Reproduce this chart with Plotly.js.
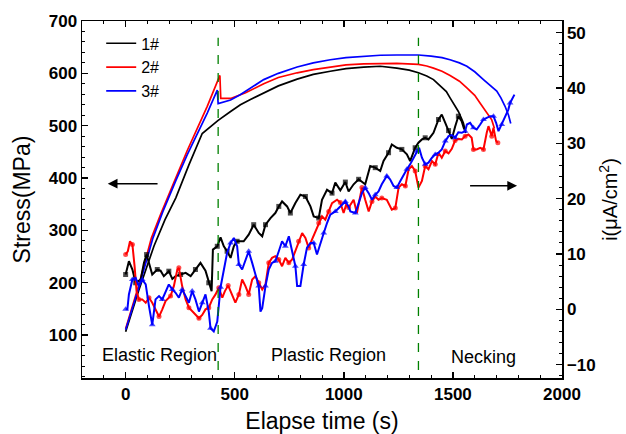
<!DOCTYPE html>
<html>
<head>
<meta charset="utf-8">
<script src="https://cdn.plot.ly/plotly-3.0.1.min.js"></script>
<style>html,body{margin:0;padding:0;background:#fff;}#chart{width:626px;height:434px;}</style>
</head>
<body>
<div id="chart"></div>
<script>
// ---------- data ----------
var seriesNames = ['1#', '2#', '3#'];
var seriesColors = ['#000000', '#ff0000', '#0000ff'];

// Stress (MPa) vs elapse time (s)
var stressTime1 = [0, 60, 130, 180, 230, 290, 351, 385, 424, 481, 526, 572, 633, 700, 786, 860, 938, 1010, 1091, 1167, 1243, 1300, 1342, 1380, 1411, 1450, 1470, 1487, 1510, 1525, 1540, 1548, 1559];
var stress1     = [106, 185, 270, 320, 362, 425, 485, 497, 510, 527, 540, 550, 563, 576, 589, 598, 604, 609, 612, 613.5, 610, 606, 601, 595, 588, 574, 565, 553, 537, 527, 513, 505, 486];

var stressTime2 = [0, 60, 118, 160, 220, 282, 374, 432, 436, 481, 550, 633, 700, 786, 860, 938, 1010, 1091, 1167, 1243, 1342, 1380, 1411, 1450, 1487, 1530, 1564, 1600, 1625, 1650, 1663, 1678, 1690];
var stress2     = [112, 195, 285, 330, 390, 452, 537, 596, 552, 552, 563, 580, 592, 601, 607, 612, 616, 618, 619, 619, 617, 614, 610, 604, 596, 585, 572, 558, 543, 528, 521, 511, 495];

var stressTime3 = [0, 60, 125, 170, 230, 282, 374, 420, 424, 481, 525, 572, 633, 700, 786, 860, 938, 1010, 1091, 1167, 1243, 1342, 1400, 1450, 1487, 1530, 1564, 1600, 1640, 1675, 1701, 1720, 1739, 1755, 1765];
var stress3     = [110, 190, 285, 335, 395, 444, 524, 568, 542, 549, 559, 572, 588, 600, 612, 620, 626, 630, 633, 634.5, 635, 635, 633, 630, 626, 620, 613.5, 603, 588, 576, 566, 553, 537, 520, 504];

// Current density i (uA/cm2) vs elapse time (s)
var currTime1 = [0, 15, 31, 46, 69, 84, 96, 107, 122, 145, 160, 175, 198, 214, 229, 252, 275, 298, 320, 343, 366, 381, 394, 400, 420, 435, 450, 465, 481, 496, 511, 541, 564, 587, 610, 626, 641, 664, 686, 702, 717, 740, 755, 778, 801, 824, 847, 862, 885, 900, 923, 946, 961, 984, 1007, 1022, 1045, 1068, 1098, 1121, 1144, 1167, 1182, 1205, 1220, 1243, 1266, 1289, 1304, 1327, 1342, 1358, 1373, 1388, 1411, 1434, 1449, 1465, 1480, 1495, 1510, 1525, 1540, 1552];
var curr1     = [6.3, 8.7, 7.2, 4.8, 5.4, 8.4, 9.9, 8.4, 6.3, 7.2, 7.0, 6.0, 6.9, 5.5, 6.0, 6.3, 6.6, 6.0, 7.2, 8.4, 7.0, 4.8, 3.3, 10.8, 11.4, 13.0, 11.4, 10.5, 9.3, 11.4, 12.3, 12.3, 13.5, 15.3, 13.8, 13.2, 15.3, 16.5, 17.4, 18.6, 19.5, 18.6, 17.4, 19.2, 20.7, 20.4, 18.6, 16.8, 16.5, 19.8, 21.6, 21.0, 22.9, 21.5, 23.0, 21.3, 22.6, 23.5, 22.6, 25.9, 25.6, 25.0, 26.8, 28.3, 29.8, 29.2, 28.9, 28.0, 26.8, 29.2, 30.1, 30.7, 31.0, 30.7, 31.9, 34.3, 35.2, 33.7, 32.3, 30.8, 33.0, 34.9, 34.0, 32.5];

var currTime2 = [0, 10, 20, 31, 41, 50, 61, 76, 92, 107, 122, 137, 153, 168, 183, 206, 221, 237, 244, 259, 275, 290, 305, 320, 336, 351, 366, 381, 397, 412, 427, 443, 455, 470, 488, 503, 519, 534, 549, 564, 580, 595, 610, 626, 641, 656, 671, 686, 702, 717, 732, 748, 763, 778, 793, 809, 824, 839, 854, 870, 885, 900, 915, 931, 946, 969, 984, 999, 1010, 1022, 1045, 1060, 1083, 1098, 1114, 1129, 1144, 1159, 1174, 1197, 1220, 1236, 1251, 1266, 1282, 1297, 1312, 1327, 1342, 1358, 1373, 1388, 1404, 1419, 1434, 1449, 1465, 1480, 1495, 1510, 1525, 1541, 1556, 1571, 1586, 1594, 1609, 1625, 1640, 1655, 1663, 1678, 1686, 1698, 1706];
var curr2     = [9.9, 10.5, 12.3, 11.7, 7.8, 3.3, 1.8, 1.8, 1.2, 2.1, 1.2, 0.0, -1.3, 0.0, 1.5, 2.4, 4.2, 7.2, 7.5, 4.2, 1.8, 0.3, -0.3, -1.0, -1.6, -1.0, 0.0, 0.3, 1.8, 2.7, 3.9, 2.1, 3.3, 4.3, 2.7, 1.2, 2.7, 5.4, 4.2, 2.7, 5.4, 6.0, 4.8, 3.6, 4.5, 8.4, 9.3, 9.6, 9.0, 7.8, 9.3, 8.4, 9.0, 10.5, 12.3, 13.8, 12.9, 11.1, 12.6, 14.1, 15.6, 16.8, 16.2, 17.7, 19.2, 19.8, 19.3, 17.4, 18.8, 18.4, 19.8, 17.4, 22.0, 19.8, 17.7, 19.5, 20.4, 19.8, 20.1, 19.8, 18.0, 18.3, 22.0, 22.6, 22.3, 25.3, 25.9, 25.0, 22.0, 23.2, 25.9, 25.3, 26.8, 26.2, 28.3, 27.4, 28.6, 28.2, 29.0, 30.5, 30.8, 30.7, 31.3, 31.6, 31.0, 28.9, 28.9, 29.2, 28.9, 31.9, 33.1, 31.3, 32.8, 30.4, 30.1];

var currTime3 = [0, 8, 15, 31, 46, 61, 76, 92, 107, 122, 137, 153, 168, 183, 198, 214, 229, 244, 259, 275, 290, 305, 320, 336, 351, 366, 381, 389, 404, 420, 435, 450, 465, 481, 496, 511, 519, 534, 549, 564, 580, 595, 610, 618, 626, 641, 656, 671, 686, 702, 717, 732, 748, 763, 778, 786, 801, 816, 831, 847, 862, 877, 893, 908, 923, 938, 961, 977, 992, 1007, 1022, 1030, 1053, 1068, 1083, 1098, 1114, 1129, 1144, 1159, 1174, 1197, 1212, 1228, 1243, 1259, 1274, 1289, 1304, 1320, 1335, 1345, 1358, 1373, 1388, 1404, 1419, 1434, 1449, 1465, 1480, 1495, 1510, 1525, 1541, 1556, 1564, 1579, 1594, 1609, 1625, 1640, 1655, 1671, 1686, 1698, 1709, 1724, 1739, 1754, 1762, 1777, 1782];
var curr3     = [0.0, 0.0, 2.7, 5.4, 5.7, 4.2, 5.4, 4.5, 0.6, -2.8, 1.8, 2.4, 1.8, 3.3, 4.5, 3.6, 3.0, 2.1, 3.6, 2.4, 1.2, 3.3, 1.8, -0.4, 1.2, 2.7, -0.4, -3.4, -4.0, -2.2, 4.0, 7.0, 10.2, 12.0, 12.9, 11.4, 8.1, 7.2, 9.0, 10.5, 8.4, 6.3, 4.2, -0.4, 0.2, 4.2, 7.2, 8.4, 8.7, 10.5, 12.3, 11.4, 13.2, 10.5, 7.8, 4.2, 4.2, 8.1, 11.1, 12.0, 12.0, 9.9, 11.7, 13.8, 15.6, 17.1, 17.7, 18.3, 18.9, 19.5, 18.6, 17.7, 17.4, 19.2, 21.0, 22.0, 21.0, 19.8, 20.7, 21.3, 22.6, 24.1, 23.5, 22.3, 22.0, 23.2, 24.4, 25.3, 26.2, 27.4, 28.6, 29.2, 27.4, 26.2, 26.5, 27.4, 28.0, 28.3, 28.9, 30.4, 31.3, 31.5, 31.0, 32.0, 31.9, 32.2, 33.4, 33.7, 32.8, 32.5, 33.4, 34.3, 34.6, 34.9, 34.9, 33.7, 32.2, 33.4, 34.9, 36.1, 37.3, 38.5, 38.8];

// region boundaries (s) and labels
var regionBounds = [424, 1342];
var regionLabels = ['Elastic Region', 'Plastic Region', 'Necking'];
var regionLabelX = [156, 929, 1638];

// ---------- build ----------
var FONT = 'Arial, "Liberation Sans", Helvetica, sans-serif';
var stressT = [stressTime1, stressTime2, stressTime3];
var stressV = [stress1, stress2, stress3];
var currT = [currTime1, currTime2, currTime3];
var currV = [curr1, curr2, curr3];
var symbols = ['square', 'circle', 'triangle-up'];
var msz = [5, 5, 6];

var traces = [];
for (var k = 0; k < 3; k++) {
  var sizes = currT[k].map(function (_, i) { return (i % 3 === 0) ? msz[k] : 0; });
  traces.push({
    x: currT[k], y: currV[k], yaxis: 'y2', type: 'scatter', mode: 'lines+markers',
    line: {color: seriesColors[k], width: 2},
    marker: {symbol: symbols[k], size: sizes, color: seriesColors[k], line: {width: 0}},
    showlegend: false, hoverinfo: 'skip'
  });
}
for (var k = 0; k < 3; k++) {
  traces.push({
    x: stressT[k], y: stressV[k], type: 'scatter', mode: 'lines', name: seriesNames[k],
    line: {color: seriesColors[k], width: 1.7}
  });
}

var tickFont = {family: FONT, size: 17, color: '#000', weight: 'bold'};
var shapes = regionBounds.map(function (b) {
  return {type: 'line', xref: 'x', yref: 'y', x0: b, x1: b, y0: 33, y1: 668,
          line: {color: '#008000', width: 1.3, dash: 'dash'}};
});
var annotations = regionLabels.map(function (t, i) {
  return {text: t, x: regionLabelX[i], xref: 'x', y: (i === 2 ? 0.059 : 0.064), yref: 'paper',
          yanchor: 'middle', xanchor: 'center',
          showarrow: false, font: {family: FONT, size: 18, color: '#000'}};
});
annotations.push({text: ' ', x: -82, y: 389, ax: 160, ay: 389, xref: 'x', yref: 'y', axref: 'x', ayref: 'y',
                  showarrow: true, arrowhead: 2, arrowsize: 1.3, arrowwidth: 1.5, arrowcolor: '#000'});
annotations.push({text: ' ', x: 1794, y: 385, ax: 1565, ay: 385, xref: 'x', yref: 'y', axref: 'x', ayref: 'y',
                  showarrow: true, arrowhead: 2, arrowsize: 1.3, arrowwidth: 1.5, arrowcolor: '#000'});

var layout = {
  width: 626, height: 434,
  margin: {l: 82, r: 64, t: 21, b: 56},
  paper_bgcolor: '#fff', plot_bgcolor: '#fff',
  font: {family: FONT, color: '#000'},
  showlegend: true,
  legend: {x: 0.04, y: 0.985, xanchor: 'left', yanchor: 'top', bgcolor: 'rgba(0,0,0,0)',
           font: {family: FONT, size: 16, color: '#000'}, tracegroupgap: 0},
  xaxis: {
    range: [-200, 2000], tick0: 0, dtick: 500, tickmode: 'linear',
    ticks: 'inside', ticklen: 6, tickwidth: 1.5, tickcolor: '#000',
    showline: true, linewidth: 1.5, linecolor: '#000', mirror: 'ticks',
    showgrid: false, zeroline: false, tickfont: tickFont,
    minor: {dtick: 100, ticks: 'inside', ticklen: 3, tickwidth: 1, tickcolor: '#000', showgrid: false},
    title: {text: 'Elapse time (s)', font: {family: FONT, size: 23, color: '#000'}, standoff: 11}
  },
  yaxis: {
    range: [17.7, 700], tick0: 0, dtick: 100, tickmode: 'linear',
    ticks: 'inside', ticklen: 6, tickwidth: 1.5, tickcolor: '#000',
    showline: true, linewidth: 1.5, linecolor: '#000',
    showgrid: false, zeroline: false, tickfont: tickFont,
    minor: {dtick: 20, ticks: 'inside', ticklen: 3, tickwidth: 1, tickcolor: '#000', showgrid: false},
    title: {text: 'Stress(MPa)', font: {family: FONT, size: 23, color: '#000'}, standoff: 11}
  },
  yaxis2: {
    overlaying: 'y', side: 'right',
    range: [-12.4, 52.1], tick0: 0, dtick: 10, tickmode: 'linear',
    ticks: 'inside', ticklen: 6, tickwidth: 1.5, tickcolor: '#000',
    showline: true, linewidth: 1.5, linecolor: '#000',
    showgrid: false, zeroline: false, tickfont: tickFont,
    minor: {dtick: 2, ticks: 'inside', ticklen: 3, tickwidth: 1, tickcolor: '#000', showgrid: false},
    title: {text: 'i(μA/cm<sup>2</sup>)', font: {family: FONT, size: 20, color: '#000'}, standoff: 8}
  },
  shapes: shapes,
  annotations: annotations
};

Plotly.newPlot('chart', traces, layout, {displayModeBar: false, staticPlot: true});
</script>
</body>
</html>
